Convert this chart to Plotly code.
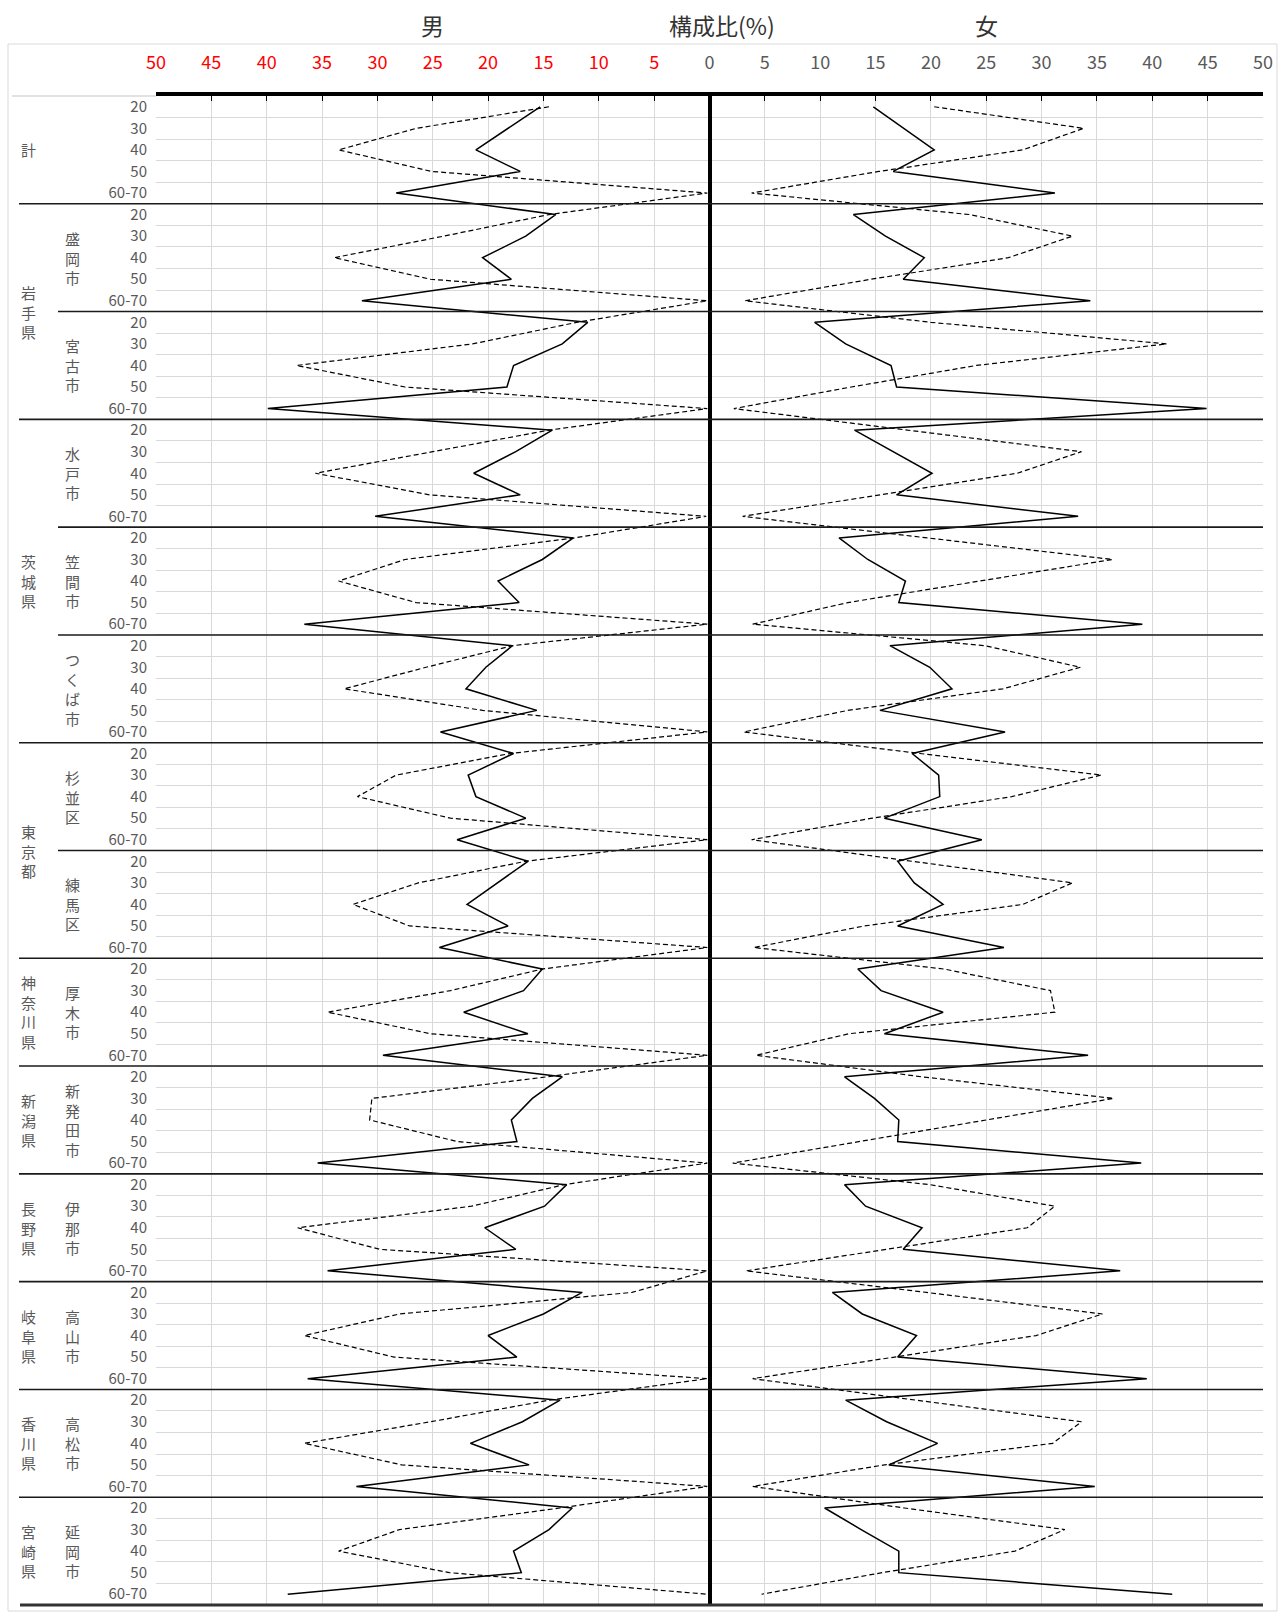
import plotly.graph_objects as go

ages = ["20", "30", "40", "50", "60-70"]
cities = ["", "盛岡市", "宮古市", "水戸市", "笠間市", "つくば市", "杉並区", "練馬区",
          "厚木市", "新発田市", "伊那市", "高山市", "高松市", "延岡市"]
prefs = ["計", "岩手県", "岩手県", "茨城県", "茨城県", "茨城県", "東京都", "東京都",
         "神奈川県", "新潟県", "長野県", "岐阜県", "香川県", "宮崎県"]

# 男 (left side), values in %
male_solid = [
    [15.3, 18.2, 21.1, 17.1, 28.3],
    [13.9, 16.6, 20.5, 17.9, 31.4],
    [11.0, 13.3, 17.7, 18.3, 39.9],
    [14.2, 17.5, 21.3, 17.1, 30.2],
    [12.3, 15.1, 19.1, 17.2, 36.6],
    [17.8, 20.2, 22.0, 15.6, 24.3],
    [17.7, 21.8, 21.1, 16.6, 22.8],
    [16.4, 19.2, 21.9, 18.2, 24.4],
    [15.1, 16.8, 22.2, 16.4, 29.5],
    [13.3, 16.0, 17.9, 17.4, 35.4],
    [12.9, 14.9, 20.3, 17.5, 34.5],
    [11.5, 15.0, 20.0, 17.4, 36.3],
    [13.5, 16.9, 21.6, 16.3, 31.9],
    [12.4, 14.5, 17.7, 17.0, 38.1],
]
male_dashed = [
    [14.5, 26.5, 33.5, 25.1, 0.2],
    [14.5, 24.0, 33.9, 25.2, 0.2],
    [12.0, 21.4, 37.3, 27.5, 0.2],
    [14.5, 25.0, 35.6, 25.3, 0.3],
    [12.2, 27.5, 33.5, 26.5, 0.2],
    [17.8, 25.6, 33.0, 20.5, 0.2],
    [18.0, 28.3, 31.8, 23.4, 0.2],
    [16.6, 26.3, 32.2, 27.1, 0.2],
    [15.1, 23.4, 34.5, 25.2, 0.2],
    [14.7, 30.5, 30.7, 22.8, 0.2],
    [13.1, 21.5, 37.2, 29.8, 0.2],
    [7.0, 28.0, 36.6, 28.5, 0.2],
    [14.5, 25.2, 36.6, 27.8, 0.2],
    [13.5, 28.0, 33.5, 23.5, 0.2],
]
# 女 (right side), values in %
female_solid = [
    [14.8, 17.5, 20.3, 16.6, 31.2],
    [13.0, 15.9, 19.4, 17.5, 34.4],
    [9.5, 12.3, 16.4, 16.9, 44.9],
    [13.1, 16.6, 20.1, 16.9, 33.3],
    [11.7, 14.3, 17.7, 17.1, 39.1],
    [16.3, 19.9, 21.9, 15.4, 26.7],
    [18.3, 20.7, 20.8, 15.8, 24.6],
    [17.0, 18.5, 21.1, 17.0, 26.6],
    [13.4, 15.5, 21.1, 15.8, 34.2],
    [12.2, 14.9, 17.1, 17.0, 39.0],
    [12.2, 14.1, 19.2, 17.5, 37.1],
    [11.1, 13.8, 18.7, 17.0, 39.5],
    [12.3, 16.0, 20.6, 16.2, 34.8],
    [10.4, 13.7, 17.1, 17.1, 41.8],
]
female_dashed = [
    [20.3, 33.8, 28.3, 15.3, 3.8],
    [23.5, 32.8, 27.0, 14.6, 3.2],
    [20.0, 41.3, 24.1, 12.8, 2.2],
    [17.9, 33.6, 27.8, 15.4, 3.0],
    [19.7, 36.4, 24.4, 12.5, 3.9],
    [24.9, 33.5, 26.5, 12.5, 3.1],
    [19.0, 35.4, 27.3, 14.7, 3.8],
    [18.3, 32.8, 28.3, 14.0, 4.0],
    [21.2, 30.8, 31.2, 12.6, 4.2],
    [19.2, 36.5, 25.0, 13.5, 2.1],
    [19.9, 31.2, 28.7, 16.0, 3.3],
    [19.6, 35.5, 29.5, 16.6, 3.9],
    [18.7, 33.6, 31.0, 15.8, 3.9],
    [17.6, 32.1, 27.6, 15.6, 4.7],
]

x_ticks = list(range(-50, 55, 5))

FONT = "Noto Sans CJK JP"
GRAY = "#595959"
GRID = "#d9d9d9"

n_groups = len(cities)
n_age = len(ages)
idx = list(range(n_groups * n_age))


def flat(rows):
    return [v for r in rows for v in r]


fig = go.Figure()
solid = dict(color="black", width=1.5)
dashed = dict(color="black", width=1.2, dash="5px,3px")
fig.add_trace(go.Scatter(x=[-v for v in flat(male_dashed)], y=idx, mode="lines", line=dashed, name="男 点線"))
fig.add_trace(go.Scatter(x=[-v for v in flat(male_solid)], y=idx, mode="lines", line=solid, name="男 実線"))
fig.add_trace(go.Scatter(x=flat(female_dashed), y=idx, mode="lines", line=dashed, name="女 点線"))
fig.add_trace(go.Scatter(x=flat(female_solid), y=idx, mode="lines", line=solid, name="女 実線"))

ticktext = []
for v in x_ticks:
    if v < 0:
        ticktext.append('<span style="color:#ff0000">%d</span>' % abs(v))
    else:
        ticktext.append(str(v))

# geometry helpers (paper coords)
PL, PR = 156, 1263
PT, PB = 96, 1605
PW, PH = PR - PL, PB - PT


def px_x(p):
    return (p - PL) / PW


def px_y(p):
    return (PB - p) / PH


LONG_X0 = px_x(19)
SHORT_X0 = px_x(58)

shapes = []
# chart border
shapes.append(dict(type="rect", xref="paper", yref="paper", x0=px_x(8), x1=px_x(1277),
                   y0=px_y(1611), y1=px_y(44), line=dict(color=GRID, width=1), layer="below"))
# top light line left of plot
shapes.append(dict(type="line", xref="paper", yref="paper", x0=px_x(12), x1=0, y0=1, y1=1,
                   line=dict(color=GRID, width=1.5)))
# group separators
for g in range(n_groups - 1):
    yb = (g + 1) * n_age - 0.5
    x0 = LONG_X0 if prefs[g] != prefs[g + 1] else SHORT_X0
    shapes.append(dict(type="line", xref="paper", yref="y", x0=x0, x1=1, y0=yb, y1=yb,
                       line=dict(color="#1a1a1a", width=1.6), layer="above"))
# bottom line
shapes.append(dict(type="line", xref="paper", yref="paper", x0=px_x(20), x1=1, y0=0, y1=0,
                   line=dict(color="#333333", width=3)))

annotations = []
# titles
for txt, xv in [("男", -25), ("構成比(%)", 1.1), ("女", 25)]:
    annotations.append(dict(text=txt, xref="x", yref="paper", x=xv, y=px_y(25), showarrow=False,
                            font=dict(family=FONT, size=23, color="#333333"), xanchor="center", yanchor="middle"))


def vert(s):
    return "<br>".join(list(s))


lab_font = dict(family=FONT, size=15, color=GRAY)
# city labels
for g, c in enumerate(cities):
    if c:
        annotations.append(dict(text=vert(c), xref="paper", yref="y", x=px_x(72), y=g * n_age + 2,
                                showarrow=False, font=lab_font, xanchor="center", yanchor="middle"))
# prefecture labels (centered over their span)
g = 0
while g < n_groups:
    h = g
    while h + 1 < n_groups and prefs[h + 1] == prefs[g]:
        h += 1
    yc = (g * n_age + 2 + h * n_age + 2) / 2
    annotations.append(dict(text=vert(prefs[g]), xref="paper", yref="y", x=px_x(28), y=yc,
                            showarrow=False, font=lab_font, xanchor="center", yanchor="middle"))
    g = h + 1

fig.update_layout(
    width=1285, height=1613,
    margin=dict(l=PL, r=1285 - PR, t=PT, b=1613 - PB, pad=0),
    paper_bgcolor="white", plot_bgcolor="white",
    showlegend=False,
    font=dict(family=FONT, color=GRAY),
    xaxis=dict(
        range=[-50, 50], side="top", tickmode="array", tickvals=x_ticks, ticktext=ticktext,
        tickfont=dict(family=FONT, size=18, color=GRAY),
        showgrid=True, gridcolor=GRID, gridwidth=1,
        zeroline=True, zerolinecolor="black", zerolinewidth=3.5,
        showline=True, linecolor="black", linewidth=4,
        ticks="inside", ticklen=5, tickwidth=1, tickcolor="black",
        ticklabelstandoff=16, fixedrange=True,
    ),
    yaxis=dict(
        range=[len(idx) - 0.5, -0.5], tickmode="array", tickvals=idx, ticktext=ages * n_groups,
        tickfont=dict(family=FONT, size=15, color=GRAY),
        showgrid=False, zeroline=False, showline=False, ticks="",
        ticklabelstandoff=8, fixedrange=True,
        minor=dict(tickvals=[k + 0.5 for k in range(len(idx) - 1)], showgrid=True,
                   gridcolor=GRID, gridwidth=1, ticks=""),
    ),
    shapes=shapes,
    annotations=annotations,
)

fig.write_html("out.html", config={"displayModeBar": False},
               post_script="document.body.style.margin='0px';document.body.style.overflow='hidden';")
